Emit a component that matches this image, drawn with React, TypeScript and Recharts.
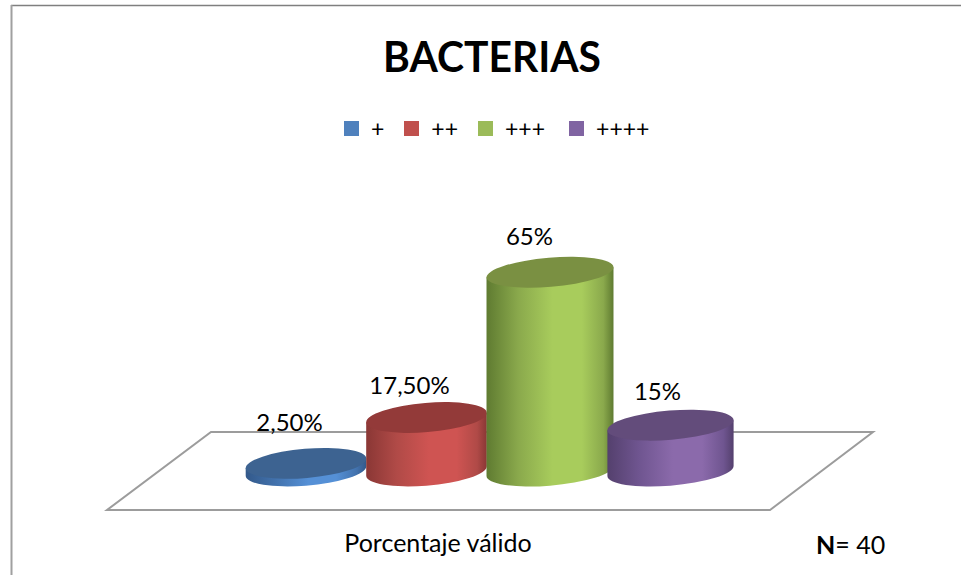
import { Bar, BarChart, LabelList, Legend, XAxis, YAxis } from "recharts";

const category = "Porcentaje válido";
const grades = ["+", "++", "+++", "++++"];
const percentages = [2.5, 17.5, 65, 15];
const percentageLabels = ["2,50%", "17,50%", "65%", "15%"];

const FONT = "Lato, Carlito, Calibri, sans-serif";
const LEGEND_COLORS = ["#4f81bd", "#c0504d", "#9bbb59", "#8064a2"];

// side shading (edge, mid, highlight) and the darker cap of each cylinder
const SHADES = [
  { edge: "#33598a", mid: "#4272ad", light: "#5590d6", cap: "#3d6391" },
  { edge: "#8a3735", mid: "#b04a47", light: "#cf5452", cap: "#933a39" },
  { edge: "#5f7b31", mid: "#8aa94c", light: "#a8cc5c", cap: "#7a9042" },
  { edge: "#54406d", mid: "#6f5590", light: "#8b6aab", cap: "#634c7b" },
];

// the 3D view spreads the columns a little unevenly
const PERSPECTIVE = [
  { dx: -0.5, rx: 60.5 },
  { dx: -1, rx: 60.5 },
  { dx: 1.5, rx: 63.7 },
  { dx: 1, rx: 63.3 },
];
const LABEL_OFFSET = [
  { dx: -17, dy: -32 },
  { dx: -18, dy: -24 },
  { dx: -19, dy: -27 },
  { dx: -12, dy: -25 },
];

const RY = 14.6;
const TILT = (-4.8 * Math.PI) / 180;

const data = [
  Object.fromEntries([
    ["name", category],
    ...grades.map((g, i) => [g, percentages[i]]),
  ]),
];

function Cylinder(props: any) {
  const { x, y, width, height, index } = props;
  const { dx, rx } = PERSPECTIVE[index];
  const cx = x + width / 2 + dx;
  const top = y;
  const bottom = y + height;
  const deg = (TILT * 180) / Math.PI;

  // rightmost point of the tilted ellipse, where the wall meets it
  const t = Math.atan2(-RY * Math.sin(TILT), rx * Math.cos(TILT));
  const ex = rx * Math.cos(t) * Math.cos(TILT) - RY * Math.sin(t) * Math.sin(TILT);
  const ey = rx * Math.cos(t) * Math.sin(TILT) + RY * Math.sin(t) * Math.cos(TILT);

  const wall = [
    `M ${cx - ex} ${top - ey}`,
    `L ${cx - ex} ${bottom - ey}`,
    `A ${rx} ${RY} ${deg} 0 0 ${cx + ex} ${bottom + ey}`,
    `L ${cx + ex} ${top + ey}`,
    "Z",
  ].join(" ");

  return (
    <g>
      <path d={wall} fill={`url(#wall-${index})`} />
      <ellipse
        cx={cx}
        cy={top}
        rx={rx}
        ry={RY}
        fill={SHADES[index].cap}
        transform={`rotate(${deg} ${cx} ${top})`}
      />
    </g>
  );
}

function ValueLabel(props: any) {
  const { x, y, width } = props;
  const seriesIndex = props.seriesIndex as number;
  const off = LABEL_OFFSET[seriesIndex];
  return (
    <text
      x={x + width / 2 + off.dx}
      y={y + off.dy}
      textAnchor="middle"
      fontFamily={FONT}
      fontSize={24}
      fill="#000"
    >
      {percentageLabels[seriesIndex]}
    </text>
  );
}

function GradeLegend() {
  return (
    <div
      style={{
        display: "flex",
        alignItems: "center",
        fontFamily: FONT,
        fontSize: 23,
        color: "#000",
        height: 20,
      }}
    >
      {grades.map((g, i) => (
        <span
          key={g}
          style={{
            display: "flex",
            alignItems: "center",
            marginRight: i === 2 ? 24 : 20,
          }}
        >
          <span
            style={{
              width: 15,
              height: 15,
              marginRight: 12,
              background: LEGEND_COLORS[i],
            }}
          />
          {g}
        </span>
      ))}
    </div>
  );
}

function CategoryTick(props: any) {
  return (
    <text
      x={props.x - 50}
      y={552}
      textAnchor="middle"
      fontFamily={FONT}
      fontSize={25}
      fill="#000"
    >
      {props.payload.value}
    </text>
  );
}

export default function App() {
  return (
    <div
      style={{
        position: "fixed",
        left: 0,
        top: 0,
        width: 961,
        height: 575,
        overflow: "hidden",
        background: "#fff",
      }}
    >
      <BarChart
        width={961}
        height={575}
        data={data}
        barCategoryGap={0}
        barGap={0}
        margin={{ top: 257, right: 231, bottom: 0, left: 246 }}
      >
        <defs>
          {SHADES.map((s, i) => (
            <linearGradient key={i} id={`wall-${i}`} x1="0" y1="0" x2="1" y2="0">
              <stop offset="0%" stopColor={s.edge} />
              <stop offset="25%" stopColor={s.mid} />
              <stop offset="52%" stopColor={s.light} />
              <stop offset="75%" stopColor={s.light} />
              <stop offset="92%" stopColor={s.mid} />
              <stop offset="100%" stopColor={s.edge} />
            </linearGradient>
          ))}
        </defs>

        {/* frame edges */}
        <line x1={11} y1={5.5} x2={961} y2={5.5} stroke="#7f7f7f" strokeWidth={1.5} />
        <line x1={11.5} y1={5} x2={11.5} y2={575} stroke="#a0a0a0" strokeWidth={2} />

        {/* floor of the 3D plot */}
        <polygon
          points="107,510 770,510 873,432 211,432"
          fill="none"
          stroke="#9c9c9c"
          strokeWidth={2}
        />

        <text
          x={383}
          y={72}
          textLength={218}
          lengthAdjust="spacingAndGlyphs"
          fontFamily={FONT}
          fontWeight={700}
          fontSize={42}
          fill="#000"
        >
          BACTERIAS
        </text>

        <text x={816} y={554} fontFamily={FONT} fontSize={25} fill="#000">
          <tspan fontWeight={700}>N</tspan>
          <tspan>= 40</tspan>
        </text>

        <XAxis
          dataKey="name"
          height={104}
          axisLine={false}
          tickLine={false}
          tick={<CategoryTick />}
        />
        <YAxis hide domain={[0, 70]} />
        <Legend
          content={<GradeLegend />}
          verticalAlign="middle"
          wrapperStyle={{ position: "absolute", left: 344, top: 118, width: 400 }}
        />
        {grades.map((g, i) => (
          <Bar
            key={g}
            dataKey={g}
            fill={LEGEND_COLORS[i]}
            isAnimationActive={false}
            shape={(p: any) => <Cylinder {...p} index={i} />}
          >
            <LabelList
              dataKey={g}
              content={(p: any) => <ValueLabel {...p} seriesIndex={i} />}
            />
          </Bar>
        ))}
      </BarChart>
    </div>
  );
}
